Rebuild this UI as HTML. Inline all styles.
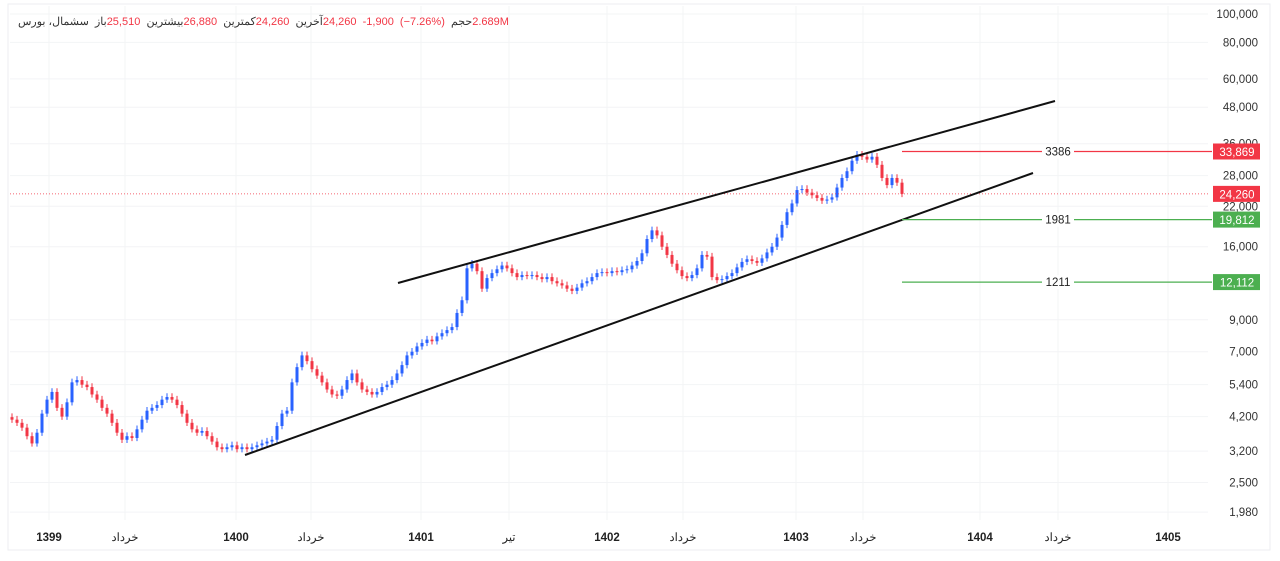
<!DOCTYPE html>
<html><head><meta charset="utf-8"><style>
body{margin:0;background:#fff;width:1280px;height:561px;overflow:hidden;font-family:"Liberation Sans","Noto Sans CJK SC",sans-serif;position:relative}
svg text{font-family:"Liberation Sans","Noto Sans CJK SC",sans-serif}
#hdr{position:absolute;left:18px;top:15px;direction:ltr;font-size:11px;color:#333;white-space:nowrap}
#hdr b{font-weight:normal;unicode-bidi:isolate;direction:rtl;display:inline-block}
#hdr i{font-style:normal;color:#f23645;unicode-bidi:isolate;direction:ltr;display:inline-block}
</style></head><body>
<svg id="chart" width="1280" height="561" viewBox="0 0 1280 561" style="position:absolute;left:0;top:0">
<rect x="8" y="4" width="1262" height="546" fill="#fff" stroke="#eceef2"/>
<g id="grid"></g><g id="candles"></g><g id="overlay"></g><g id="axes"></g>
</svg>
<div id="hdr"><b>سشمال، بورس</b>&nbsp; <b>باز</b><i>25,510</i>&nbsp; <b>بیشترین</b><i>26,880</i>&nbsp; <b>کمترین</b><i>24,260</i>&nbsp; <b>آخرین</b><i>24,260&nbsp; -1,900&nbsp; (−7.26%)</i>&nbsp; <b>حجم</b><i>2.689M</i></div>
<script>
const closes=[4100,4000,3850,3600,3400,3700,4300,4800,5100,4500,4200,4700,5500,5600,5400,5300,5000,4800,4500,4300,4000,3700,3500,3600,3550,3800,4100,4400,4500,4600,4800,4900,4800,4600,4300,4000,3800,3700,3750,3600,3450,3300,3250,3300,3350,3250,3300,3250,3300,3350,3400,3450,3500,3900,4300,4400,5500,6200,6800,6500,6100,5800,5500,5200,5000,4950,5200,5600,5900,5500,5200,5100,5000,5100,5300,5400,5600,5900,6300,6800,7000,7300,7500,7700,7600,7900,8100,8300,8500,9500,10500,13500,14000,13200,11500,12500,13000,13400,13800,13500,13000,12600,12800,12700,12800,12600,12400,12600,12200,12000,11800,11500,11300,11600,12000,12200,12600,13000,13100,13000,13200,13100,13300,13400,13800,14300,15200,17000,18200,17500,16000,15000,14000,13300,12700,12500,12800,13500,15000,14800,12600,12300,12400,12700,13000,13600,14200,14500,14300,14100,14600,15300,16000,17200,19000,21000,22500,25000,25200,24500,24000,23500,23000,23200,23600,25500,27500,29000,31500,33000,32500,31800,32500,30500,27500,26000,27500,26500,24260];
const yTicks=[100000,80000,60000,48000,36000,28000,22000,16000,9000,7000,5400,4200,3200,2500,1980];
const timeLabels=["1399","خرداد","1400","خرداد","1401","تیر","1402","خرداد","1403","خرداد","1404","خرداد","1405"];
const timeIdx=[7.4,22.6,44.8,59.8,81.8,99.4,119,134.2,156.8,170.2,193.6,209.2,231.2];
const levels=[33869,19812,12112];
const levelNames=["3386","1981","1211"];
const lastPrice=24260;
const NS="http://www.w3.org/2000/svg";
const y=v=>14+127*Math.log(100000/v);
const x=i=>12+5*i;
function mk(tag,attrs,parent,txt){const e=document.createElementNS(NS,tag);for(const k in attrs)e.setAttribute(k,attrs[k]);if(txt!=null)e.textContent=txt;parent.appendChild(e);return e;}
const grid=document.getElementById('grid'),cg=document.getElementById('candles'),ov=document.getElementById('overlay'),ax=document.getElementById('axes');
yTicks.forEach(v=>{
 const l=mk('line',{x1:10,x2:1208,y1:y(v),y2:y(v),stroke:'#f3f4f6'},grid);
 
 
 const t=mk('text',{x:1258,y:y(v)+4,'font-size':11.5,'text-anchor':'end',fill:'#333'},ax,v.toLocaleString('en-US'));
 
 
});
timeLabels.forEach((s,k)=>{
 const xx=x(timeIdx[k]);
 const l=mk('line',{x1:xx,x2:xx,y1:6,y2:520,stroke:'#f3f4f6'},grid);
 
 
 const bold=/^\d+$/.test(s);
 const t=mk('text',{x:xx,y:541,'font-size':11.5,'text-anchor':'middle',fill:'#222','font-weight':bold?'bold':'normal'},ax,s);
 
 
});
closes.forEach((c,i)=>{
 const o=i?closes[i-1]:c*1.02;
 const up=c>=o,col=up?'#2962ff':'#f23645';
 const hi=Math.max(o,c)*1.03,lo=Math.min(o,c)*0.975;
 const g=mk('g',{},cg);
 
 
 mk('line',{x1:x(i),x2:x(i),y1:y(hi),y2:y(lo),stroke:col,'stroke-width':1},g);
 const t=Math.min(y(o),y(c)),h=Math.max(1,Math.abs(y(o)-y(c)));
 mk('rect',{x:x(i)-1.5,y:t,width:3,height:h,fill:col},g);
});
let pl=mk('line',{x1:10,x2:1210,y1:y(lastPrice),y2:y(lastPrice),stroke:'#f23645','stroke-dasharray':'1 2','stroke-width':0.8},ov);


let t1=mk('line',{x1:398,y1:283,x2:1055,y2:101,stroke:'#111','stroke-width':2},ov);


let t2=mk('line',{x1:245,y1:455,x2:1033,y2:173,stroke:'#111','stroke-width':2},ov);


levels.forEach((v,k)=>{
 const col=k===0?'#f23645':'#4caf50',yy=y(v);
 mk('rect',{x:1042,y:yy-7,width:32,height:14,fill:'#fff'},ov);
 const l=mk('line',{x1:902,x2:1042,y1:yy,y2:yy,stroke:col,'stroke-width':1.3},ov);
 
 
 const l2=mk('line',{x1:1074,x2:1212,y1:yy,y2:yy,stroke:col,'stroke-width':1.3},ov);
 
 
 const t=mk('text',{x:1058,y:yy+4,'font-size':11.5,'text-anchor':'middle',fill:'#222'},ov,levelNames[k]);
 
 
});
[[levels[0],'#f23645'],[lastPrice,'#f23645'],[levels[1],'#4caf50'],[levels[2],'#4caf50']].forEach(([v,col])=>{
 const yy=y(v);
 const r=mk('rect',{x:1213,y:yy-8,width:47,height:16,fill:col},ax);
 
 
 const t=mk('text',{x:1237,y:yy+4.5,'font-size':11.5,'text-anchor':'middle',fill:'#fff'},ax,v.toLocaleString('en-US'));
 
 
});
</script>
</body></html>
